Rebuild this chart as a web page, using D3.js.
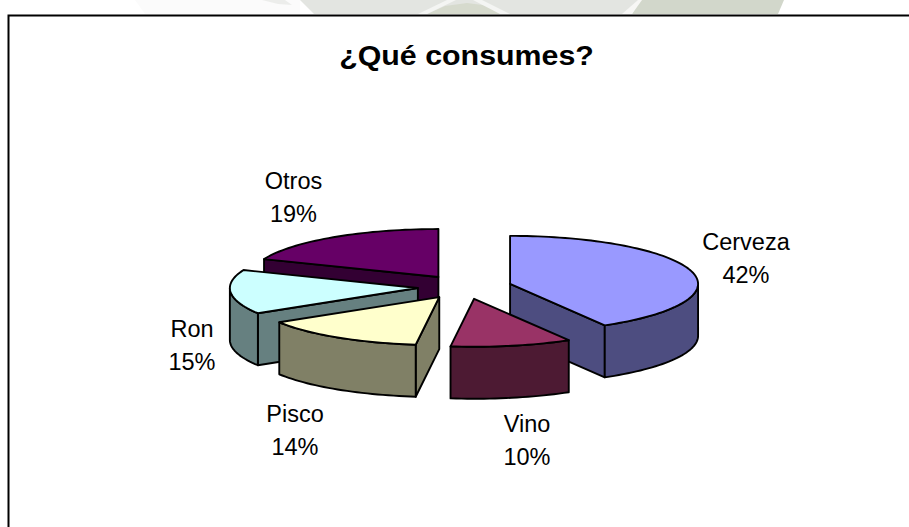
<!DOCTYPE html>
<html><head><meta charset="utf-8">
<style>html,body{margin:0;padding:0;background:#fff}svg{display:block}text{font-family:"Liberation Sans",Arial,sans-serif;fill:#000}</style>
<script src="https://cdn.jsdelivr.net/npm/d3@7/dist/d3.min.js"></script>
</head><body><svg id="c" width="909" height="527"></svg>
<script>
const title = "¿Qué consumes?";
const categories = ["Cerveza","Vino","Pisco","Ron","Otros"];
const values = [41.6,10.4,14.2,14.9,18.9];
const topColors = ["#9999FF","#993366","#FFFFCC","#CCFFFF","#660066"];
const sideColors = ["#4D4D80","#4D1A33","#808066","#668080","#330033"];
const drawOrder = ["Otros","Ron","Pisco","Cerveza","Vino"];

const W=909,H=527, cx=464.7, cy=287, rx=188, ry=48, depth=52, explode=0.25;
const labelPos = {Cerveza:[746,250],Vino:[527,432],Pisco:[295,422],Ron:[192,337],Otros:[293.5,189]};
const svg=d3.select("#c");

// faded watermark strip behind the chart frame
const wm=svg.append("g");
[{p:[[135,0],[300,0],[300,14],[145,14]],f:"#fbfbfb"},
 {p:[[262,0],[285,0],[292,5],[278,4]],f:"#ecedeb"},
 {p:[[300,0],[650,0],[628,14],[314,14]],f:"#e3e5e1"},
 {p:[[640,0],[784,0],[778,14],[632,14]],f:"#d2d7cb"},
 {p:[[427,14],[445,6],[467,3],[490,6],[507,14]],f:"#d6dacd"},
 {p:[[418,14],[447,0],[456,0],[427,14]],f:"#f4f5f3"},
 {p:[[473,0],[482,0],[510,14],[500,14]],f:"#f4f5f3"},
 {p:[[622,14],[638,0],[642,0],[632,14]],f:"#f7f7f5"}]
 .forEach(d=>wm.append("path").attr("d",d3.line()(d.p)+"Z").attr("fill",d.f));

// chart frame: only top and left rules are inside the crop
svg.append("path").attr("d",`M909 15.5H8.5V527`).attr("fill","none").attr("stroke","#000").attr("stroke-width",2);

const pie=d3.pie().sort(null).value(d=>d.v);
const arcs=pie(categories.map((c,i)=>({c,v:values[i],i})));
const px=a=>rx*Math.sin(a), py=a=>-ry*Math.cos(a);
const line=d3.line();
const samples=(a0,a1)=>{const n=Math.max(2,Math.ceil((a1-a0)/0.03));return d3.range(n+1).map(k=>a0+(a1-a0)*k/n);};
const face=(g,pts,fill)=>g.append("path").attr("d",line(pts)+"Z").attr("fill",fill)
  .attr("stroke","#000").attr("stroke-width",1.9).attr("stroke-linejoin","round");

drawOrder.forEach(name=>{
  const s=arcs.find(a=>a.data.c===name), i=s.data.i, a0=s.startAngle, a1=s.endAngle, mid=(a0+a1)/2;
  const ox=cx+explode*px(mid), oy=cy+explode*py(mid);
  const P=(a,dz=0)=>[ox+px(a),oy+py(a)+dz];
  const g=svg.append("g");
  const O=[ox,oy],Od=[ox,oy+depth];
  // cut faces facing the viewer
  if(Math.sin(a0)<-1e-6) face(g,[O,P(a0),P(a0,depth),Od],sideColors[i]);
  if(Math.sin(a1)>1e-6) face(g,[O,P(a1),P(a1,depth),Od],sideColors[i]);
  // outer rim, front half only
  const r0=Math.max(a0,Math.PI/2), r1=Math.min(a1,3*Math.PI/2);
  if(r1>r0){const t=samples(r0,r1);face(g,[...t.map(a=>P(a)),...t.slice().reverse().map(a=>P(a,depth))],sideColors[i]);}
  // top
  face(g,[O,...samples(a0,a1).map(a=>P(a))],topColors[i]);
});

const lbl=(str,x,y,size,weight,sx)=>svg.append("text").attr("transform",`translate(${x},${y}) scale(${sx},1)`)
  .attr("text-anchor","middle").attr("font-size",size).attr("font-weight",weight).text(str);
lbl(title,466.5,65,27,"bold",1.125);
arcs.forEach(s=>{const [x,y]=labelPos[s.data.c];
  lbl(s.data.c,x,y,23.5,"normal",1);
  lbl(Math.round(s.data.v)+"%",x,y+33,23.5,"normal",1);});
</script></body></html>
